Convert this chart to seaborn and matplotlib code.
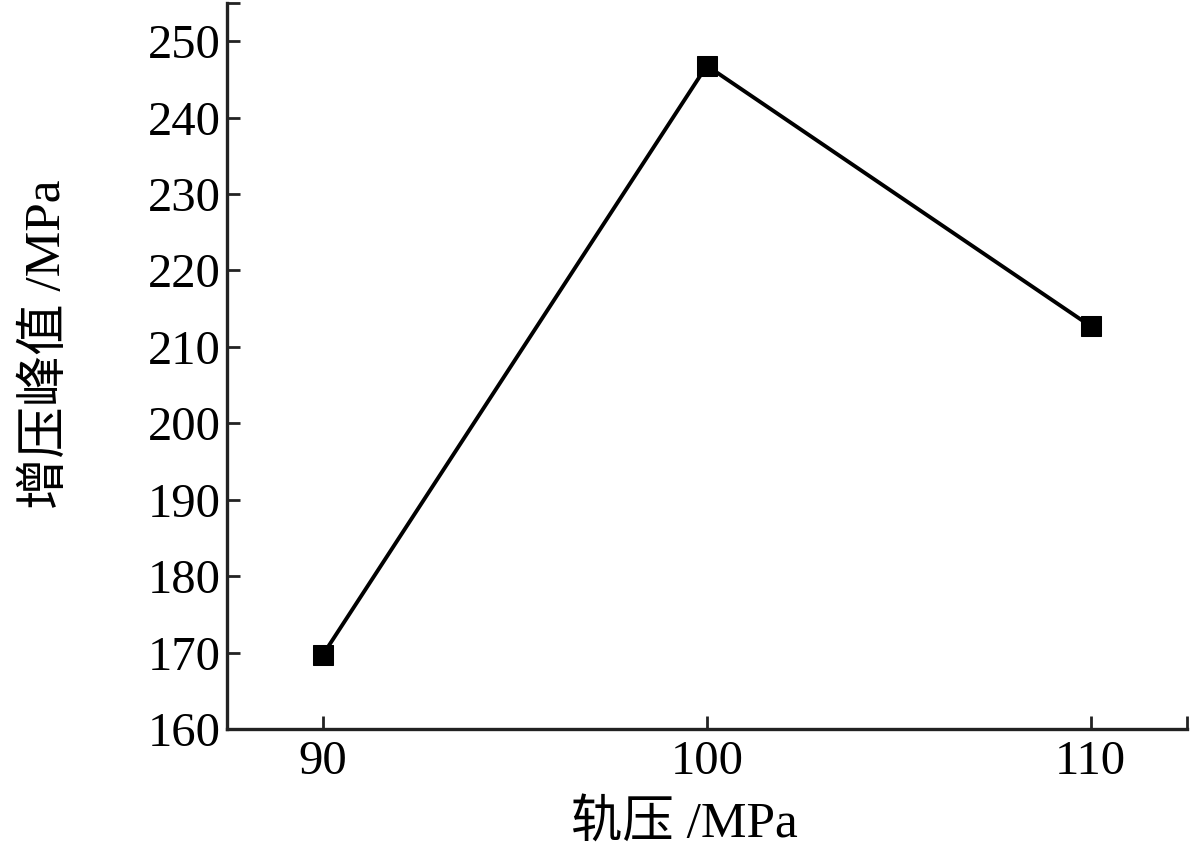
import matplotlib
matplotlib.use("Agg")
import matplotlib.pyplot as plt
import seaborn as sns
import pandas as pd

rail_pressure = [90, 100, 110]
peak_pressure = [169.7, 246.8, 212.7]
x_ticks = [90, 100, 110]
y_ticks = [160, 170, 180, 190, 200, 210, 220, 230, 240, 250]
x_label = "轨压 /MPa"
y_label = "增压峰值 /MPa"

sns.set_theme(style="ticks")
plt.rcParams['font.family'] = ['Liberation Serif', 'Noto Sans CJK SC', 'DejaVu Sans']
plt.rcParams['axes.linewidth'] = 2.4

df = pd.DataFrame({"x": rail_pressure, "y": peak_pressure})

fig = plt.figure(figsize=(12, 8.59), dpi=100)
ax = fig.add_axes([0.189, 0.1513, 0.8, 0.8452])

sns.lineplot(data=df, x="x", y="y", ax=ax, color="black", linewidth=2.8,
             marker="s", markersize=14, markeredgecolor="black",
             markerfacecolor="black")

ax.set_xlim(87.5, 112.5)
ax.set_ylim(160, 255)
ax.set_xticks(x_ticks)
ax.set_yticks(y_ticks)
ax.set_xticklabels([str(v) for v in x_ticks])
ax.set_yticklabels([str(v) for v in y_ticks])
# end ticks at the axis limits
ax.set_xticks([112.5], minor=True)
ax.set_yticks([255], minor=True)

for s in ["top", "right"]:
    ax.spines[s].set_visible(False)
for s in ["left", "bottom"]:
    ax.spines[s].set_color("#222222")
    ax.spines[s].set_linewidth(2.4)

ax.tick_params(axis="both", which="both", direction="in", length=9.5, width=2,
               colors="#222222", labelcolor="black")
ax.tick_params(axis="y", which="major", labelsize=35, pad=4)
ax.tick_params(axis="x", which="major", labelsize=35, pad=8)

ax.set_xlabel(x_label, fontsize=37, color="black")
ax.set_ylabel(y_label, fontsize=37, color="black")
ax.xaxis.set_label_coords(0.477, -0.098)
ax.yaxis.set_label_coords(-0.162, 0.53)

fig.savefig("out.png", dpi=100)
